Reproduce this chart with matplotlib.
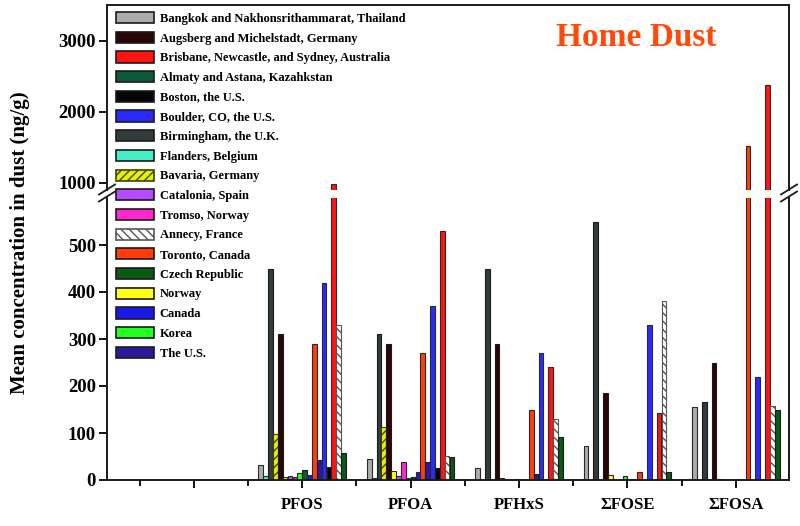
import numpy as np
import matplotlib
matplotlib.use("Agg")
import matplotlib.pyplot as plt
from matplotlib.patches import Patch
from matplotlib.lines import Line2D

plt.rcParams['font.family'] = ['Liberation Serif', 'DejaVu Serif']
plt.rcParams['font.weight'] = 'bold'
plt.rcParams['hatch.linewidth'] = 1.0

# ---------------- data ----------------
categories = ["", "PFOS", "PFOA", "PFHxS", "ΣFOSE", "ΣFOSA"]

# series in drawing (slot) order; values for PFOS, PFOA, PFHxS, ΣFOSE, ΣFOSA
names = [
    "Bangkok and Nakhonsrithammarat, Thailand",
    "Flanders, Belgium",
    "Birmingham, the U.K.",
    "Bavaria, Germany",
    "Augsberg and Michelstadt, Germany",
    "Norway",
    "Catalonia, Spain",
    "Tromso, Norway",
    "Korea",
    "Almaty and Astana, Kazahkstan",
    "Canada",
    "Toronto, Canada",
    "The U.S.",
    "Boulder, CO, the U.S.",
    "Boston, the U.S.",
    "Brisbane, Newcastle, and Sydney, Australia",
    "Annecy, France",
    "Czech Republic",
]
bangkok    = [32, 45, 25, 72, 155]
flanders   = [8, 5, 0, 0, 0]
birmingham = [450, 310, 450, 550, 165]
bavaria    = [97, 113, 0, 0, 0]
augsberg   = [310, 290, 290, 185, 248]
norway     = [7, 20, 4, 10, 3]
catalonia  = [8, 8, 0, 0, 0]
tromso     = [7, 39, 0, 0, 0]
korea      = [14, 5, 2, 8, 0]
almaty     = [21, 6, 0, 0, 0]
canada     = [10, 18, 0, 0, 0]
toronto    = [290, 270, 150, 18, 1520]
the_us     = [43, 39, 13, 0, 0]
boulder    = [420, 370, 270, 330, 220]
boston     = [28, 25, 0, 0, 0]
brisbane   = [990, 530, 240, 143, 2380]
annecy     = [330, 51, 130, 380, 158]
czech      = [57, 49, 92, 18, 150]

values = [bangkok, flanders, birmingham, bavaria, augsberg, norway, catalonia,
          tromso, korea, almaty, canada, toronto, the_us, boulder, boston,
          brisbane, annecy, czech]

legend_order = [
    "Bangkok and Nakhonsrithammarat, Thailand",
    "Augsberg and Michelstadt, Germany",
    "Brisbane, Newcastle, and Sydney, Australia",
    "Almaty and Astana, Kazahkstan",
    "Boston, the U.S.",
    "Boulder, CO, the U.S.",
    "Birmingham, the U.K.",
    "Flanders, Belgium",
    "Bavaria, Germany",
    "Catalonia, Spain",
    "Tromso, Norway",
    "Annecy, France",
    "Toronto, Canada",
    "Czech Republic",
    "Norway",
    "Canada",
    "Korea",
    "The U.S.",
]

# ---------------- styles ----------------
style = {
    "Bangkok and Nakhonsrithammarat, Thailand": dict(fc="#a9adad", ec="#2a2a2a", hatch=None),
    "Augsberg and Michelstadt, Germany": dict(fc="#2b0606", ec="#1a1a1a", hatch=None),
    "Brisbane, Newcastle, and Sydney, Australia": dict(fc="#ff1414", ec="#2a2a2a", hatch=None),
    "Almaty and Astana, Kazahkstan": dict(fc="#0c5a3a", ec="#1a1a1a", hatch=None),
    "Boston, the U.S.": dict(fc="#050505", ec="#1a1a1a", hatch=None),
    "Boulder, CO, the U.S.": dict(fc="#2a2aff", ec="#2a2a2a", hatch=None),
    "Birmingham, the U.K.": dict(fc="#333c3c", ec="#1a1a1a", hatch=None),
    "Flanders, Belgium": dict(fc="#44f0c4", ec="#2a2a2a", hatch=None),
    "Bavaria, Germany": dict(fc="#e8f000", ec="#3a4400", hatch="////"),
    "Catalonia, Spain": dict(fc="#b64cff", ec="#2a2a2a", hatch=None),
    "Tromso, Norway": dict(fc="#ff28d0", ec="#2a2a2a", hatch=None),
    "Annecy, France": dict(fc="#ffffff", ec="#555555", hatch="\\\\\\\\"),
    "Toronto, Canada": dict(fc="#ff3c0a", ec="#2a2a2a", hatch=None),
    "Czech Republic": dict(fc="#0a5a16", ec="#1a1a1a", hatch=None),
    "Norway": dict(fc="#ffff18", ec="#2a2a2a", hatch=None),
    "Canada": dict(fc="#1a1ae8", ec="#2a2a2a", hatch=None),
    "Korea": dict(fc="#22ff22", ec="#2a2a2a", hatch=None),
    "The U.S.": dict(fc="#2c1a9c", ec="#1a1a1a", hatch=None),
}

# ---------------- figure ----------------
fig = plt.figure(figsize=(8.0, 5.26), dpi=100)
left, right = 107 / 800, 789 / 800
ax_lo = fig.add_axes([left, (526 - 480) / 526, right - left, (480 - 198) / 526])
ax_hi = fig.add_axes([left, (526 - 190) / 526, right - left, (190 - 5) / 526], sharex=ax_lo)

n = len(names)
slot = 0.0449
xs = np.arange(1, len(categories))
for i, (nm, vals) in enumerate(zip(names, values)):
    st = style[nm]
    offs = (i - (n - 1) / 2) * slot
    keep = [k for k, v in enumerate(vals) if v > 0]
    xx = xs[keep] + offs
    hh = [vals[k] for k in keep]
    for ax in (ax_lo, ax_hi):
        ax.bar(xx, hh, width=slot * 0.96, color=st["fc"], edgecolor=st["ec"],
               hatch=st["hatch"], linewidth=0.8, zorder=2)

ax_lo.set_ylim(0, 600)
ax_hi.set_ylim(900, 3500)
ax_lo.set_xlim(-0.8, len(categories) - 0.51)

ax_lo.set_yticks([0, 100, 200, 300, 400, 500])
ax_hi.set_yticks([1000, 2000, 3000])
ax_lo.set_xticks(range(len(categories)))
ax_lo.set_xticklabels(categories)
ax_lo.set_xticks(np.arange(-0.5, len(categories) - 0.5, 1.0), minor=True)

for ax in (ax_lo, ax_hi):
    for sp in ax.spines.values():
        sp.set_linewidth(1.4)
        sp.set_color("#1a1a1a")
    ax.tick_params(axis='y', direction='out', length=6, width=1.3,
                   labelsize=13.5, right=False, pad=2)
ax_hi.spines['bottom'].set_visible(False)
ax_lo.spines['top'].set_visible(False)
ax_hi.tick_params(axis='x', which='both', bottom=False, top=False, labelbottom=False)
ax_lo.tick_params(axis='x', which='major', direction='out', length=6, width=1.3,
                  labelsize=12, pad=6)
ax_lo.tick_params(axis='x', which='minor', direction='out', length=4, width=1.3)
for lab in ax_lo.get_xticklabels() + ax_lo.get_yticklabels() + ax_hi.get_yticklabels():
    lab.set_fontweight('bold')

# axis break marks
def brk(xf, yf):
    for dy in (-3.5 / 526, 3.5 / 526):
        fig.add_artist(Line2D([xf - 8 / 800, xf + 8 / 800], [yf + dy - 5 / 526, yf + dy + 5 / 526],
                              transform=fig.transFigure, color="#1a1a1a", lw=1.3))
brk(left, (526 - 193) / 526)
brk(right, (526 - 193) / 526)

fig.text(20 / 800, (526 - 243) / 526, "Mean concentration in dust (ng/g)", rotation=90,
         ha='center', va='center', fontsize=15, fontweight='bold')
fig.text(636 / 800, (526 - 37) / 526, "Home Dust", ha='center', va='center',
         fontsize=24, fontweight='bold', color="#ff4a0a")

handles = [Patch(facecolor=style[nm]["fc"], edgecolor="#1a1a1a" if style[nm]["hatch"] is None else style[nm]["ec"],
                 hatch=style[nm]["hatch"], linewidth=1.2, label=nm) for nm in legend_order]
fig.legend(handles=handles, loc='upper left', bbox_to_anchor=(116 / 800, (526 - 12) / 526),
           frameon=False, prop=dict(weight='bold', size=9),
           handlelength=3.0, handleheight=1.0, handletextpad=0.5,
           labelspacing=0.545, borderpad=0, borderaxespad=0)

fig.savefig("out.png", dpi=100)
